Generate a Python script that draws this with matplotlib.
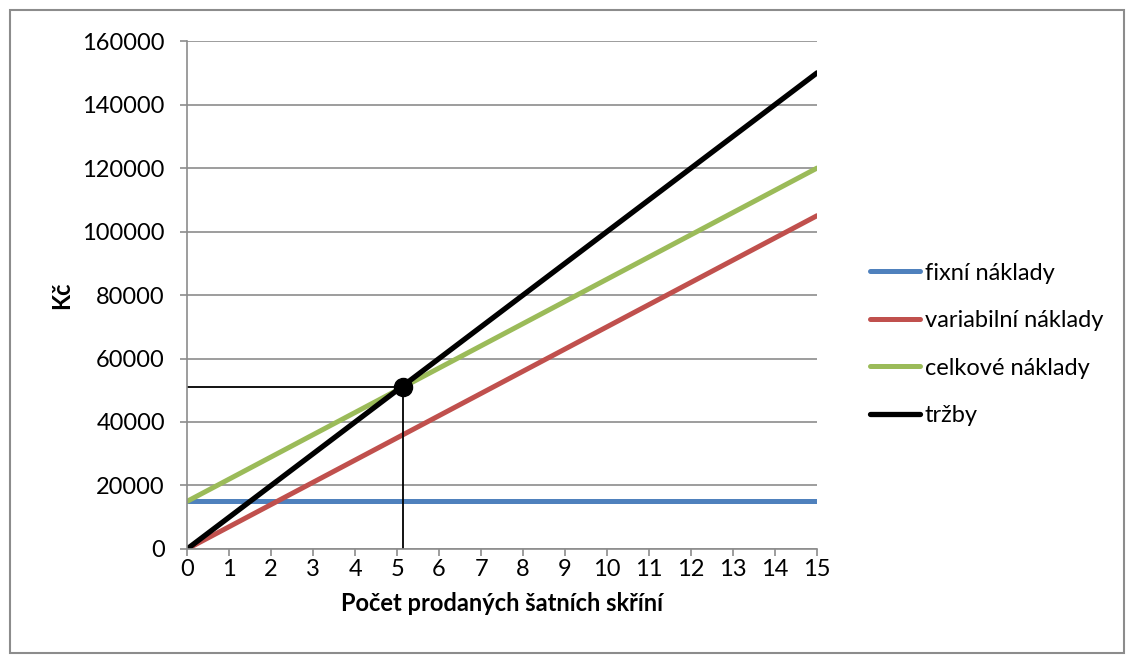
import matplotlib.pyplot as plt
from matplotlib.patches import Rectangle

plt.rcParams['font.family'] = ['Lato', 'DejaVu Sans']

# data
pocet = list(range(16))
fixni = [15000] * 16
variabilni = [0, 7000, 14000, 21000, 28000, 35000, 42000, 49000, 56000, 63000,
              70000, 77000, 84000, 91000, 98000, 105000]
celkove = [15000, 22000, 29000, 36000, 43000, 50000, 57000, 64000, 71000, 78000,
           85000, 92000, 99000, 106000, 113000, 120000]
trzby = [0, 10000, 20000, 30000, 40000, 50000, 60000, 70000, 80000, 90000,
         100000, 110000, 120000, 130000, 140000, 150000]
bod_zvratu_x = 5.14
bod_zvratu_y = 51000

fs = 17

fig = plt.figure(figsize=(11.34, 6.63), dpi=100)
ax = fig.add_axes([0.165, 0.172, 0.5555, 0.766])

ax.plot(pocet, fixni, color='#4F81BD', lw=3.6, label='fixní náklady', solid_capstyle='round')
ax.plot(pocet, variabilni, color='#C0504D', lw=3.6, label='variabilní náklady', solid_capstyle='round')
ax.plot(pocet, celkove, color='#9BBB59', lw=3.6, label='celkové náklady', solid_capstyle='round')
ax.plot(pocet, trzby, color='black', lw=3.8, label='tržby', solid_capstyle='round')

# break-even point and helper lines
ax.plot([0, bod_zvratu_x], [bod_zvratu_y, bod_zvratu_y], color='black', lw=1.3)
ax.plot([bod_zvratu_x, bod_zvratu_x], [0, bod_zvratu_y], color='black', lw=1.3)
ax.plot([bod_zvratu_x], [bod_zvratu_y], 'o', color='black', markersize=13)

ax.set_xlim(0, 15)
ax.set_ylim(0, 160000)
ax.set_xticks(pocet)
ax.set_yticks(range(0, 160001, 20000))
ax.grid(axis='y', color='#8c8c8c', lw=1.2)
ax.set_axisbelow(True)
for s in ['top', 'right']:
    ax.spines[s].set_visible(False)
for s in ['left', 'bottom']:
    ax.spines[s].set_color('#8c8c8c')
    ax.spines[s].set_linewidth(1.2)
ax.tick_params(axis='both', colors='#8c8c8c', labelcolor='black', labelsize=fs,
               length=5, width=1.2)
ax.tick_params(axis='y', pad=11)
ax.tick_params(axis='x', pad=2)

ax.set_xlabel('Počet prodaných šatních skříní', fontsize=fs, fontweight='bold', labelpad=9)
ax.set_ylabel('Kč', fontsize=fs, fontweight='bold', labelpad=7)

leg = ax.legend(loc='center left', bbox_to_anchor=(1.051, 0.403), frameon=False,
                fontsize=fs, handlelength=2.1, handletextpad=0.2, labelspacing=1.12)

fig.patches.append(Rectangle((10 / 1134, 10 / 663), 1114 / 1134, 643 / 663,
                             transform=fig.transFigure, fill=False,
                             edgecolor='#8c8c8c', lw=1.5))

fig.savefig('out.png', dpi=100)
